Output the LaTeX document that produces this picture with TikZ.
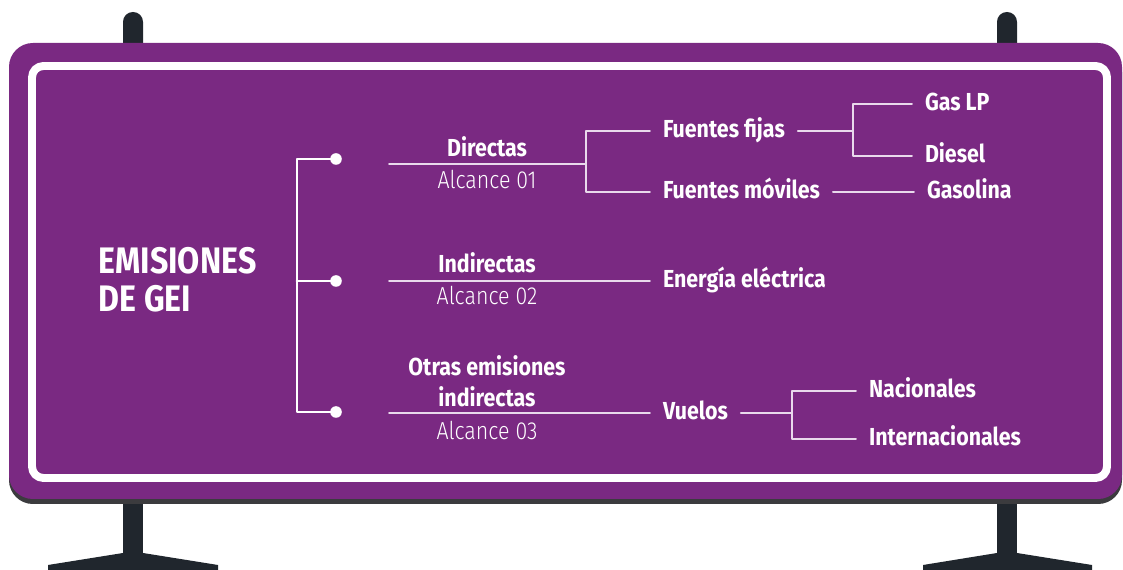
\documentclass[tikz,border=0pt]{standalone}
\usepackage{fontspec}
\setmainfont{Fira Sans}[FakeStretch=0.87]
\newfontfamily\lightfont{Fira Sans Light}[FakeStretch=0.87]
\usepackage{tikz}
\usetikzlibrary{calc}
\definecolor{signpurple}{HTML}{7A2982}
\definecolor{postgray}{HTML}{20262D}
\definecolor{shadowgray}{HTML}{3B3B3E}
\definecolor{linelilac}{HTML}{E9D9EC}
\tikzset{
every picture/.append style={
    line join=round,
    line cap=round,
    thick
  },
lbl/.style={text=white, font=\fontsize{14}{16}\selectfont\bfseries, inner xsep=7pt, inner ysep=0pt, text height=0.69em, text depth=0pt},
scopelbl/.style={lbl, font=\fontsize{14}{16}\selectfont\lightfont},
conn/.style={draw=linelilac, line width=1.1pt},
trunk/.style={draw=white, line width=1.7pt},
dot/.style={circle, fill=white, inner sep=0pt, minimum size=6.6pt}}

\begin{document}
\begin{tikzpicture}[x=0.02cm,y=-0.02cm]
    \useasboundingbox (0,0) rectangle (1123,570);
    \foreach \px/\bl/\br in {123/48/218, 997/923/1092} {
      \fill [postgray, rounded corners=5.6pt] (\px,12) rectangle ++(20,60);
      \fill [postgray] (\px,470) rectangle ++(20,90);
      \fill [postgray] (\bl,565) -- (\px,553) -- (\px+20,553) -- (\br,565) -- (\br,570) -- (\bl,570) -- cycle;
    }
    \fill [shadowgray, rounded corners=13.6pt] (9,48) rectangle (1122,504);
    \fill [signpurple, rounded corners=13.6pt] (9,43) rectangle (1122,499);
    \draw [white, line width=4.5pt, rounded corners=6.5pt] (32,66) rectangle (1107,478);

    \node [anchor=west, align=left, text=white, inner sep=0pt, font=\fontsize{21}{21.5}\selectfont\bfseries] (emi) at (98,280) {EMISIONES\\DE GEI};

    \node [dot] (p1) at (336,159) {};
    \node [dot] (p2) at (336,281) {};
    \node [dot] (p3) at (336,412) {};
    \coordinate (t1) at (297,159);
    \coordinate (t2) at (297,281);
    \coordinate (t3) at (297,412);
    \draw [trunk] (p1.center) -- (t1) -- (t3) -- (p3.center);
    \draw [trunk] (t2) -- (p2.center);

    \node [lbl] (dir) at (487,150) {Directas};
    \node [scopelbl] (alc1) at (487,182) {Alcance 01};
    \node [lbl] (ind) at (487,266) {Indirectas};
    \node [scopelbl] (alc2) at (487,298) {Alcance 02};
    \node [lbl] (otr) at (487,369) {Otras emisiones};
    \node [lbl] (otrb) at (487,400) {indirectas};
    \node [scopelbl] (alc3) at (487,433) {Alcance 03};

    \coordinate (c1) at (389,164);
    \coordinate (j1) at (586,164);
    \coordinate (c2) at (389,281);
    \coordinate (c3) at (389,413);

    \node [lbl, anchor=west] (ff) at (650,131) {Fuentes fijas};
    \node [lbl, anchor=west] (fm) at (650,192) {Fuentes móviles};
    \node [lbl, anchor=west] (ee) at (650,281) {Energía eléctrica};
    \node [lbl, anchor=west] (vue) at (650,413) {Vuelos};
    \node [lbl, anchor=west] (gas) at (912,104) {Gas LP};
    \node [lbl, anchor=west] (die) at (912,156) {Diesel};
    \node [lbl, anchor=west] (gsl) at (914,192) {Gasolina};
    \node [lbl, anchor=west] (nac) at (856,391) {Nacionales};
    \node [lbl, anchor=west] (int) at (856,439) {Internacionales};

    \coordinate (j2) at (853,131);
    \coordinate (j3) at (792,413);

    \draw [conn] (c1) -- (j1);
    \draw [conn] (j1) |- (ff.west);
    \draw [conn] (j1) |- (fm.west);
    \draw [conn] (ff.east) -- (j2);
    \draw [conn] (j2) |- (gas.west);
    \draw [conn] (j2) |- (die.west);
    \draw [conn] (fm.east) -- (gsl.west);
    \draw [conn] (c2) -- (ee.west);
    \draw [conn] (c3) -- (vue.west);
    \draw [conn] (vue.east) -- (j3);
    \draw [conn] (j3) |- (nac.west);
    \draw [conn] (j3) |- (int.west);
\end{tikzpicture}
\end{document}
